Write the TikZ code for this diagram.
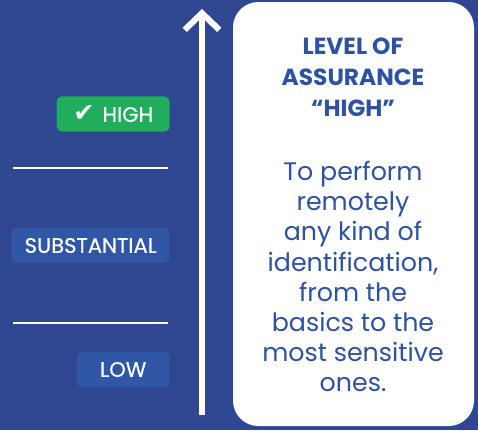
\documentclass[tikz,border=0pt]{standalone}
\usepackage{fontspec}
\setmainfont{Poppins}
\newfontfamily\checkfont{DejaVu Sans}
\newfontfamily\badgefont[FakeBold=0.35]{Poppins}
\usetikzlibrary{positioning,arrows.meta}
\definecolor{bgblue}{RGB}{47,70,144}
\definecolor{badgeblue}{RGB}{48,87,166}
\definecolor{textblue}{RGB}{46,82,162}
\definecolor{highgreen}{RGB}{33,174,92}
\tikzset{badge/.style={fill=badgeblue,rounded corners=4.5pt,text=white,anchor=east,
    minimum height=26.5pt,inner sep=0pt,font=\badgefont\fontsize{15.8}{18}\selectfont}}
\tikzset{divider/.style={draw=white,line width=1.6pt}}

\begin{document}
\begin{tikzpicture}[x=0.75pt,y=-0.75pt]
    		\fill[bgblue] (0,0) rectangle (478,430);
    		\useasboundingbox (0,0) rectangle (478,430);
    		% levels
    		\node[badge,fill=highgreen,minimum width=84.75pt] (high) at (170,114) {{\checkfont\bfseries\fontsize{19}{18}\selectfont ✔}\hspace{6pt}HIGH\hspace{4pt}};
    		\node[badge,minimum width=118.5pt] (subst) at (170,245.5) {SUBSTANTIAL};
    		\node[badge,minimum width=69.75pt] (low) at (170,369.5) {LOW};
    		\foreach \y in {168,323}
        	{
        		\draw[divider] (13,\y) -- (168,\y);
        	}
    		% scale arrow
    		\coordinate (base) at (202,415);
    		\coordinate (tip) at (202,9);
    		\draw[white,line width=4.5pt,-{Straight Barb[length=12.5pt,width=26pt,line width=4.5pt]}] (base) -- (tip);
    		% description
    		\node[fill=white,rounded corners=19pt,minimum width=180.75pt,minimum height=318pt,inner sep=0pt] (info) at (353.5,214) {};
    		\node[text=textblue,align=center,anchor=north,inner sep=0pt,
    		      font=\bfseries\fontsize{17.5}{23.25}\selectfont] (title) at (353,38) {LEVEL OF\\ASSURANCE\\“HIGH”};
    		\node[text=textblue,align=center,anchor=north,inner sep=0pt,
    		      font=\fontsize{19}{22.6}\selectfont] (body) at (353,161) {To perform\\remotely\\any kind of\\identification,\\from the\\basics to the\\most sensitive\\ones.};
		\end{tikzpicture}
\end{document}
